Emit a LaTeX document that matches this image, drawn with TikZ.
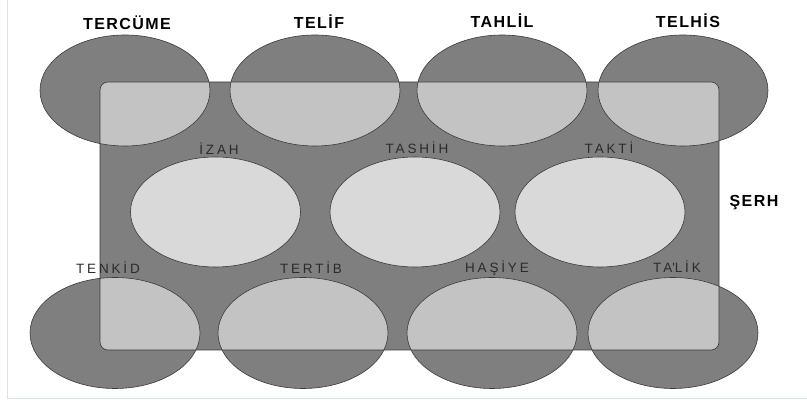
\documentclass[tikz,border=0pt]{standalone}
\usepackage{fontspec}
\setmainfont{Liberation Sans}
\newfontfamily\capsfont[LetterSpace=9]{Liberation Sans}
\newfontfamily\widefont[LetterSpace=21]{Liberation Sans}
\usetikzlibrary{shapes.geometric}
\definecolor{darkfill}{HTML}{7F7F7F}
\definecolor{overlap}{HTML}{C3C3C3}
\definecolor{corefill}{HTML}{D9D9D9}
\definecolor{edge}{HTML}{3A3A3A}
\definecolor{frameline}{HTML}{DCE3E6}
\definecolor{innertext}{HTML}{2B2B2B}

\begin{document}
\begin{tikzpicture}[x=1pt, y=-1pt,
  rimell/.style={ellipse, fill=darkfill, draw=edge, line width=0.6pt, minimum width=170pt,
    minimum height=111pt, inner sep=0pt},
  coreell/.style={ellipse, fill=corefill, draw=edge, line width=0.6pt, minimum width=170pt,
    minimum height=110pt, inner sep=0pt},
  toplbl/.style={anchor=base, inner sep=0pt, font=\capsfont\bfseries\fontsize{16}{18}\selectfont},
  inlbl/.style={anchor=base, inner sep=0pt, text=innertext, font=\widefont\fontsize{13.5}{15}\selectfont}]

  \useasboundingbox (0,0) rectangle (807,403);
  \draw[frameline, line width=1pt] (7,-5) rectangle (830,399);

  % outer ring of ellipses
  \node[rimell] (tercume) at (125,90.5) {};
  \node[rimell] (telif) at (315,90.5) {};
  \node[rimell] (tahlil) at (502,90.5) {};
  \node[rimell] (telhis) at (683,90.5) {};
  \node[rimell] (tenkid) at (115,333) {};
  \node[rimell] (tertib) at (303,333) {};
  \node[rimell] (hasiye) at (492,333) {};
  \node[rimell] (talik) at (673,333) {};

  % the box
  \node[rectangle, rounded corners=8pt, fill=darkfill, outer sep=0pt, inner sep=0pt,
    minimum width=619pt, minimum height=268pt] (serh) at (409.5,216) {};

  \begin{scope}
    \clip[rounded corners=8pt] (serh.north west) rectangle (serh.south east);
    \foreach \e in {tercume,telif,tahlil,telhis,tenkid,tertib,hasiye,talik}
      \filldraw[fill=overlap, draw=edge, line width=0.6pt] (\e.center) ellipse [x radius=85pt, y radius=55.5pt];
  \end{scope}
  \draw[edge, line width=0.6pt, rounded corners=8pt] (serh.north west) rectangle (serh.south east);

  % inner row
  \node[coreell] (izah) at (215.5,212) {};
  \node[coreell] (tashih) at (415,212) {};
  \node[coreell] (takti) at (600,212) {};

  \node[toplbl] (tercumelbl) at (127,30) {TERCÜME};
  \node[toplbl] (teliflbl) at (319,28.5) {TELİF};
  \node[toplbl] (tahlillbl) at (502,28) {TAHLİL};
  \node[toplbl] (telhislbl) at (688,28) {TELHİS};
  \node[toplbl] (serhlbl) at (754,206.5) {ŞERH};

  \node[inlbl] (izahlbl) at (219,155) {İZAH};
  \node[inlbl] (tashihlbl) at (417,153.5) {TASHİH};
  \node[inlbl] (taktilbl) at (609,153.5) {TAKTİ};
  \node[inlbl] (tenkidlbl) at (108,273.5) {TENKİD};
  \node[inlbl] (tertiblbl) at (311,273.5) {TERTİB};
  \node[inlbl] (hasiyelbl) at (497,273) {HAŞİYE};
  \node[inlbl] (taliklbl) at (677,273) {TA\textquotesingle LİK};
\end{tikzpicture}
\end{document}
